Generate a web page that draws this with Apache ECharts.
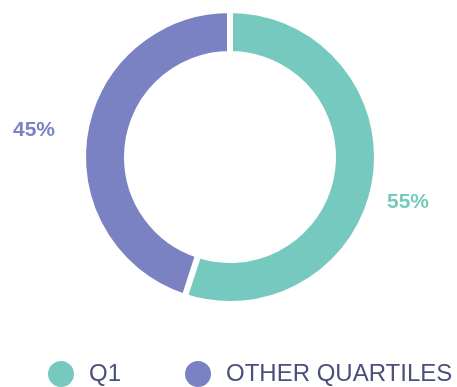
<!DOCTYPE html>
<html>
<head>
<meta charset="utf-8">
<script src="https://cdn.jsdelivr.net/npm/echarts@6/dist/echarts.min.js"></script>
<style>
  html, body { margin: 0; padding: 0; background: #ffffff; }
  #chart { width: 457px; height: 387px; }
</style>
</head>
<body>
<div id="chart"></div>
<script>
// Share of Q1 versus the remaining quartiles
const categories = ['Q1', 'OTHER QUARTILES'];
const shares = [55, 45];
const colors = ['#76c9be', '#7a82c4'];

// Where each percentage label sits beside the ring
const labelSpots = [
  { x: 408, y: 202 },
  { x: 34, y: 130 }
];

const chart = echarts.init(document.getElementById('chart'), null, { renderer: 'canvas' });

chart.setOption({
  animation: false,
  backgroundColor: '#ffffff',
  color: colors,
  legend: {
    data: categories,
    left: 46,
    top: 359,
    width: 440,
    padding: 0,
    orient: 'horizontal',
    icon: 'circle',
    itemWidth: 28,
    itemHeight: 28,
    itemGap: 62,
    textStyle: {
      fontFamily: 'Liberation Sans, Arial, sans-serif',
      fontSize: 24,
      color: '#4a4f7c',
      padding: [0, 0, 0, 9]
    }
  },
  series: [{
    type: 'pie',
    center: [230, 157],
    radius: [103, 147],
    startAngle: 90,
    clockwise: true,
    avoidLabelOverlap: false,
    itemStyle: {
      borderColor: '#ffffff',
      borderWidth: 6
    },
    label: {
      show: true,
      formatter: '{c}%',
      fontFamily: 'Liberation Sans, Arial, sans-serif',
      fontWeight: 'bold',
      fontSize: 21,
      align: 'center',
      verticalAlign: 'middle'
    },
    labelLine: { show: false },
    labelLayout: function (params) {
      const spot = labelSpots[params.dataIndex];
      return { x: spot.x, y: spot.y, align: 'center', verticalAlign: 'middle' };
    },
    emphasis: { disabled: true },
    data: categories.map(function (name, i) {
      return {
        name: name,
        value: shares[i],
        label: { color: colors[i] }
      };
    })
  }]
});
</script>
</body>
</html>
